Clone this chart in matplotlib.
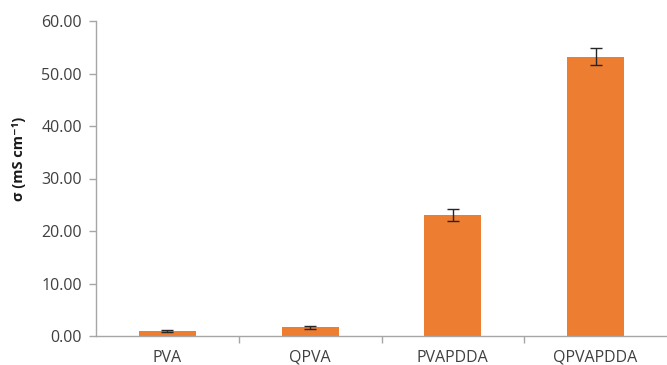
import numpy as np
import matplotlib.pyplot as plt

# membrane samples and measured conductivity
samples = ["PVA", "QPVA", "PVAPDDA", "QPVAPDDA"]
sigma = [1.0, 1.65, 23.0, 53.2]
sigma_err = [0.15, 0.25, 1.1, 1.6]
yticks = [0, 10, 20, 30, 40, 50, 60]

plt.rcParams['font.family'] = ['Open Sans', 'DejaVu Sans']
text_color = '#404040'
axis_color = '#a6a6a6'

fig = plt.figure(figsize=(6.67, 3.65), dpi=100)
ax = fig.add_axes([96 / 667, 29 / 365, 571 / 667, 315 / 365])

x = np.arange(len(samples))
ax.bar(x, sigma, width=0.4, color='#ED7D31', zorder=2)
ax.errorbar(x, sigma, yerr=sigma_err, fmt='none', ecolor='#262626',
            elinewidth=1.0, capsize=4, capthick=1.0, zorder=3)

ax.set_xlim(-0.5, len(samples) - 0.5)
ax.set_ylim(0, 60)
ax.set_yticks(yticks)
ax.set_yticklabels([f"{v:.2f}" for v in yticks])

# category labels centred, tick marks between categories
ax.set_xticks(x)
ax.set_xticklabels(samples)
ax.set_xticks(np.arange(0.5, len(samples) - 0.5), minor=True)
ax.tick_params(axis='x', which='major', length=0, pad=10,
               labelsize=11.5, labelcolor=text_color)
ax.tick_params(axis='x', which='minor', length=5, color=axis_color, width=1)
ax.tick_params(axis='y', length=5, color=axis_color, width=1, pad=5,
               labelsize=11.5, labelcolor=text_color)

for side in ['top', 'right']:
    ax.spines[side].set_visible(False)
for side in ['left', 'bottom']:
    ax.spines[side].set_color(axis_color)
    ax.spines[side].set_linewidth(1)

ax.set_ylabel("σ (mS cm⁻¹)", fontsize=10.5, fontweight='bold',
              color='#1a1a1a')
ax.yaxis.set_label_coords(-0.122, 0.562)

fig.savefig('out.png', dpi=100)
